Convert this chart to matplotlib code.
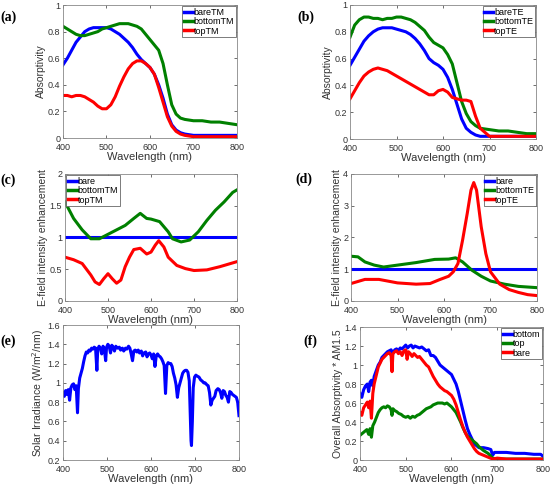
import matplotlib
matplotlib.use("Agg")
import matplotlib.pyplot as plt

plt.rcParams["font.family"] = ["Liberation Sans", "DejaVu Sans"]

# (a) TM absorptivity
wl_ab = [400, 410, 420, 430, 440, 450, 460, 470, 480, 490, 500, 510, 520, 530, 540, 550, 560, 570,
         580, 590, 600, 610, 620, 630, 640, 650, 660, 670, 680, 700, 720, 740, 760, 780, 800]
bareTM = [0.55, 0.60, 0.66, 0.72, 0.76, 0.80, 0.82, 0.83, 0.83, 0.83, 0.83, 0.82, 0.80, 0.78, 0.75, 0.72,
          0.68, 0.63, 0.59, 0.56, 0.53, 0.48, 0.40, 0.30, 0.18, 0.10, 0.06, 0.04, 0.03, 0.02, 0.02, 0.02,
          0.02, 0.02, 0.02]
bottomTM = [0.84, 0.82, 0.80, 0.78, 0.77, 0.77, 0.78, 0.79, 0.80, 0.82, 0.83, 0.84, 0.85, 0.86, 0.86, 0.86,
            0.85, 0.84, 0.82, 0.78, 0.74, 0.70, 0.66, 0.56, 0.40, 0.25, 0.18, 0.15, 0.14, 0.13, 0.13, 0.12,
            0.12, 0.11, 0.10]
topTM = [0.32, 0.32, 0.31, 0.32, 0.32, 0.31, 0.29, 0.27, 0.24, 0.22, 0.22, 0.25, 0.31, 0.39, 0.46, 0.52,
         0.56, 0.58, 0.58, 0.56, 0.53, 0.48, 0.38, 0.27, 0.16, 0.09, 0.05, 0.03, 0.02, 0.01, 0.01, 0.01,
         0.01, 0.01, 0.01]

# (b) TE absorptivity
bareTE = [0.55, 0.61, 0.67, 0.73, 0.77, 0.80, 0.82, 0.83, 0.83, 0.83, 0.82, 0.81, 0.80, 0.78, 0.75, 0.71,
          0.66, 0.60, 0.57, 0.55, 0.52, 0.46, 0.37, 0.26, 0.15, 0.08, 0.05, 0.03, 0.02, 0.02, 0.02, 0.02,
          0.02, 0.02, 0.02]
bottomTE = [0.76, 0.85, 0.89, 0.91, 0.91, 0.90, 0.90, 0.89, 0.90, 0.90, 0.91, 0.91, 0.90, 0.89, 0.87, 0.84,
            0.81, 0.76, 0.72, 0.70, 0.68, 0.63, 0.56, 0.42, 0.28, 0.19, 0.13, 0.10, 0.08, 0.07, 0.06, 0.06,
            0.05, 0.04, 0.04]
topTE = [0.30, 0.36, 0.42, 0.47, 0.50, 0.52, 0.53, 0.52, 0.51, 0.49, 0.47, 0.45, 0.43, 0.41, 0.39, 0.37,
         0.35, 0.33, 0.33, 0.36, 0.37, 0.35, 0.31, 0.30, 0.29, 0.29, 0.28, 0.17, 0.08, 0.02, 0.02, 0.02,
         0.02, 0.02, 0.02]

# (c) E-field enhancement, TM
wl_c_bot = [400, 420, 440, 460, 480, 500, 520, 540, 560, 575, 590, 600, 620, 640, 650, 670, 690, 710,
            730, 750, 770, 790, 800]
bottomTM_E = [1.56, 1.30, 1.12, 0.98, 0.98, 1.05, 1.12, 1.19, 1.30, 1.38, 1.30, 1.29, 1.25, 1.09, 0.98,
              0.93, 0.96, 1.09, 1.27, 1.43, 1.56, 1.71, 1.75]
wl_c_top = [400, 420, 440, 460, 470, 480, 490, 500, 510, 520, 530, 540, 550, 560, 575, 590, 600, 610,
            618, 630, 640, 660, 680, 700, 730, 760, 800]
topTM_E = [0.69, 0.65, 0.59, 0.41, 0.30, 0.26, 0.35, 0.43, 0.35, 0.28, 0.33, 0.54, 0.69, 0.81, 0.83, 0.74,
           0.77, 0.88, 0.95, 0.85, 0.69, 0.56, 0.51, 0.48, 0.49, 0.54, 0.62]

# (d) E-field enhancement, TE
wl_d_bot = [400, 415, 430, 450, 470, 500, 540, 580, 610, 625, 640, 660, 680, 700, 730, 760, 800]
bottomTE_E = [1.41, 1.39, 1.23, 1.13, 1.07, 1.13, 1.21, 1.31, 1.32, 1.36, 1.23, 0.97, 0.78, 0.63, 0.53,
              0.46, 0.42]
wl_d_top = [400, 430, 460, 500, 540, 570, 590, 610, 620, 630, 640, 650, 658, 664, 670, 680, 690, 700,
            720, 740, 760, 780, 800]
topTE_E = [0.55, 0.68, 0.68, 0.57, 0.53, 0.55, 0.67, 0.78, 0.92, 1.18, 1.92, 2.76, 3.49, 3.73, 3.49, 2.34,
           1.49, 0.92, 0.53, 0.36, 0.27, 0.20, 0.17]

# (e) solar irradiance AM1.5
wl_e = [400, 403, 406, 409, 412, 415, 418, 421, 424, 427, 430, 433, 435, 438, 441, 444, 447, 450, 453,
        456, 459, 462, 465, 468, 471, 474, 477, 479, 482, 485, 488, 491, 494, 497, 499, 502, 505, 508,
        511, 514, 517, 520, 524, 528, 531, 535, 538, 542, 545, 549, 552, 555, 558, 561, 564, 568, 571,
        574, 578, 581, 584, 588, 591, 594, 597, 600, 603, 606, 609, 612, 615, 618, 621, 624, 627, 630,
        633, 636, 639, 642, 645, 648, 651, 654, 657, 660, 663, 666, 669, 672, 675, 678, 681, 684, 687,
        689, 691, 692, 694, 696, 699, 702, 705, 709, 713, 716, 720, 723, 727, 730, 733, 736, 739, 742,
        745, 748, 752, 755, 758, 761, 764, 767, 770, 773, 776, 779, 782, 785, 788, 791, 794, 797, 800]
irr = [0.90, 0.86, 0.92, 0.88, 0.93, 0.82, 0.95, 0.98, 0.99, 0.93, 0.97, 0.69, 0.94, 1.05, 1.10, 1.15,
       1.22, 1.28, 1.32, 1.31, 1.34, 1.33, 1.36, 1.35, 1.37, 1.36, 1.13, 1.35, 1.38, 1.36, 1.30, 1.38,
       1.35, 1.23, 1.37, 1.40, 1.38, 1.31, 1.39, 1.37, 1.33, 1.38, 1.36, 1.37, 1.34, 1.36, 1.33, 1.36,
       1.35, 1.38, 1.36, 1.30, 1.23, 1.33, 1.34, 1.32, 1.34, 1.31, 1.33, 1.28, 1.31, 1.32, 1.27, 1.30,
       1.31, 1.29, 1.25, 1.30, 1.17, 1.28, 1.30, 1.28, 1.27, 1.25, 1.22, 1.18, 0.89, 1.18, 1.21, 1.20,
       1.20, 1.17, 1.10, 1.05, 0.98, 0.85, 0.95, 1.00, 1.05, 1.10, 1.12, 1.13, 1.13, 1.11, 1.02, 0.70,
       0.40, 0.35, 0.60, 0.95, 1.06, 1.08, 1.07, 1.06, 1.03, 1.02, 1.00, 1.00, 0.98, 0.97, 0.90, 0.77,
       0.82, 0.84, 0.86, 0.92, 0.94, 0.93, 0.90, 0.84, 0.92, 0.91, 0.87, 0.85, 0.80, 0.91, 0.90, 0.88,
       0.87, 0.86, 0.85, 0.80, 0.66]

# (f) overall absorptivity * AM1.5
wl_f_bot = [400, 404, 408, 412, 416, 419, 422, 425, 428, 431, 434, 437, 440, 444, 448, 452, 456, 460,
            464, 468, 472, 476, 480, 484, 488, 492, 496, 500, 504, 508, 512, 516, 520, 525, 530, 535,
            540, 545, 550, 555, 560, 565, 570, 575, 580, 585, 590, 595, 600, 605, 610, 615, 620, 625,
            630, 635, 640, 645, 650, 655, 660, 670, 680, 686, 690, 694, 700, 720, 740, 760, 780, 795, 800]
f_bottom = [0.70, 0.66, 0.74, 0.78, 0.80, 0.72, 0.82, 0.84, 0.78, 0.88, 0.92, 0.96, 1.00, 1.03, 1.08,
            1.10, 1.12, 1.14, 1.15, 1.16, 1.12, 1.16, 1.17, 1.15, 1.18, 1.17, 1.19, 1.21, 1.18, 1.20,
            1.21, 1.18, 1.20, 1.19, 1.18, 1.19, 1.17, 1.15, 1.16, 1.10, 1.10, 1.08, 1.04, 1.00, 0.98,
            0.96, 0.94, 0.92, 0.90, 0.85, 0.80, 0.72, 0.62, 0.52, 0.42, 0.33, 0.27, 0.22, 0.17, 0.15,
            0.13, 0.13, 0.12, 0.11, 0.05, 0.08, 0.08, 0.08, 0.07, 0.07, 0.06, 0.06, 0.04]
wl_f_top = [400, 405, 410, 415, 419, 422, 425, 428, 432, 436, 440, 444, 448, 452, 456, 460, 464, 468,
            470, 472, 476, 480, 485, 490, 495, 500, 505, 510, 515, 520, 525, 530, 535, 540, 545, 550,
            555, 560, 565, 570, 575, 580, 585, 590, 595, 600, 605, 610, 615, 620, 625, 630, 635, 640,
            645, 650, 655, 660, 670, 680, 690, 700, 750, 800]
f_top = [0.26, 0.28, 0.30, 0.32, 0.27, 0.33, 0.24, 0.36, 0.40, 0.45, 0.50, 0.53, 0.55, 0.56, 0.55, 0.57,
         0.56, 0.53, 0.47, 0.54, 0.52, 0.51, 0.49, 0.48, 0.46, 0.45, 0.46, 0.44, 0.46, 0.45, 0.47, 0.48,
         0.50, 0.52, 0.54, 0.55, 0.56, 0.58, 0.59, 0.60, 0.60, 0.60, 0.59, 0.60, 0.58, 0.56, 0.53, 0.50,
         0.45, 0.40, 0.34, 0.29, 0.25, 0.23, 0.21, 0.19, 0.17, 0.14, 0.10, 0.07, 0.02, 0.01, 0.01, 0.01]
wl_f_bare = [400, 404, 408, 412, 416, 419, 422, 425, 428, 431, 434, 437, 440, 444, 448, 452, 456, 460,
             464, 468, 470, 472, 476, 480, 484, 488, 492, 496, 500, 503, 506, 510, 514, 518, 522, 526,
             530, 535, 540, 545, 550, 555, 560, 565, 570, 575, 580, 585, 590, 595, 600, 605, 610, 615,
             620, 625, 630, 635, 640, 645, 650, 655, 660, 670, 680, 690, 700, 720, 750, 800]
f_bare = [0.50, 0.47, 0.55, 0.58, 0.61, 0.55, 0.62, 0.44, 0.70, 0.80, 0.86, 0.92, 0.98, 1.02, 1.06, 1.08,
          1.10, 1.12, 1.13, 1.10, 0.93, 1.12, 1.14, 1.15, 1.12, 1.14, 1.10, 1.15, 1.16, 1.06, 1.14, 1.12,
          1.09, 1.12, 1.10, 1.08, 1.09, 1.06, 1.03, 1.00, 0.98, 0.93, 0.88, 0.84, 0.80, 0.77, 0.75, 0.73,
          0.72, 0.70, 0.68, 0.64, 0.58, 0.50, 0.42, 0.35, 0.29, 0.24, 0.20, 0.16, 0.12, 0.09, 0.07, 0.05,
          0.03, 0.01, 0.02, 0.01, 0.01, 0.01]

BLUE = "#0000ff"
GREEN = "#008000"
RED = "#ff0000"
LW = 2.2
TXT = "#333333"

fig = plt.figure(figsize=(5.54, 4.94), dpi=100)


def make_ax(rect, ylim, yticks, ylabels, ylabel, tag, tagpos):
    ax = fig.add_axes(rect)
    ax.set_xlim(400, 800)
    ax.set_ylim(*ylim)
    ax.set_xticks([400, 500, 600, 700, 800])
    ax.set_yticks(yticks)
    ax.set_yticklabels(ylabels)
    ax.tick_params(direction="in", length=2.5, width=0.5, labelsize=6.5, colors=TXT,
                   top=True, right=True)
    ax.tick_params(axis="x", pad=3.5)
    ax.tick_params(axis="y", pad=2)
    for s in ax.spines.values():
        s.set_linewidth(0.6)
        s.set_color("#888888")
    ax.set_xlabel("Wavelength (nm)", fontsize=8, color=TXT, labelpad=0)
    ax.set_ylabel(ylabel, fontsize=7.5, color=TXT, labelpad=1)
    fig.text(tagpos[0], tagpos[1], tag, fontsize=10, fontweight="bold",
             family="Liberation Serif", ha="left", va="center")
    return ax


def add_legend(ax, loc):
    leg = ax.legend(loc=loc, fontsize=6.5, handlelength=1.0, handletextpad=0.1,
                    borderpad=0.2, labelspacing=0.05, borderaxespad=0.1,
                    fancybox=False, framealpha=1)
    leg.get_frame().set_edgecolor("#666666")
    leg.get_frame().set_linewidth(0.6)
    for line in leg.get_lines():
        line.set_linewidth(2.5)
    return leg


ab_ticks = [0, 0.2, 0.4, 0.6, 0.8, 1]
ab_labels = ["0", "0.2", "0.4", "0.6", "0.8", "1"]

# (a)
ax = make_ax([0.1137, 0.7206, 0.3141, 0.2692], (0, 1), ab_ticks, ab_labels, "Absorptivity",
             "(a)", (0.0, 1 - 17 / 494))
ax.plot(wl_ab, bareTM, color=BLUE, lw=LW, label="bareTM")
ax.plot(wl_ab, bottomTM, color=GREEN, lw=LW, label="bottomTM")
ax.plot(wl_ab, topTM, color=RED, lw=LW, label="topTM")
add_legend(ax, "upper right")

# (b)
ax = make_ax([0.6318, 0.7186, 0.3357, 0.2713], (0, 1), ab_ticks, ab_labels, "Absorptivity",
             "(b)", (297 / 554, 1 - 17 / 494))
ax.plot(wl_ab, bareTE, color=BLUE, lw=LW, label="bareTE")
ax.plot(wl_ab, bottomTE, color=GREEN, lw=LW, label="bottomTE")
ax.plot(wl_ab, topTE, color=RED, lw=LW, label="topTE")
add_legend(ax, "upper right")

# (c)
ax = make_ax([0.1173, 0.3907, 0.3105, 0.2571], (0, 2), [0, 0.5, 1, 1.5, 2],
             ["0", "0.5", "1", "1.5", "2"], "E-field intensity enhancement",
             "(c)", (0.0, 1 - 180 / 494))
ax.plot([400, 800], [1, 1], color=BLUE, lw=LW, label="bare")
ax.plot(wl_c_bot, bottomTM_E, color=GREEN, lw=LW, label="bottomTM")
ax.plot(wl_c_top, topTM_E, color=RED, lw=LW, label="topTM")
add_legend(ax, "upper left")

# (d)
ax = make_ax([0.6336, 0.3907, 0.3357, 0.2571], (0, 4), [0, 1, 2, 3, 4],
             ["0", "1", "2", "3", "4"], "E-field intensity enhancement",
             "(d)", (295 / 554, 1 - 179 / 494))
ax.plot([400, 800], [1, 1], color=BLUE, lw=LW, label="bare")
ax.plot(wl_d_bot, bottomTE_E, color=GREEN, lw=LW, label="bottomTE")
ax.plot(wl_d_top, topTE_E, color=RED, lw=LW, label="topTE")
add_legend(ax, "upper right")

# (e)
ax = make_ax([0.1137, 0.0688, 0.3177, 0.2733], (0.2, 1.6),
             [0.2, 0.4, 0.6, 0.8, 1.0, 1.2, 1.4, 1.6],
             ["0.2", "0.4", "0.6", "0.8", "1", "1.2", "1.4", "1.6"],
             "Solar Irradiance (W/m$^2$/nm)", "(e)", (0.0, 1 - 341 / 494))
ax.plot(wl_e, irr, color=BLUE, lw=LW)

# (f)
ax = make_ax([0.6498, 0.0688, 0.3303, 0.2692], (0, 1.4),
             [0, 0.2, 0.4, 0.6, 0.8, 1.0, 1.2, 1.4],
             ["0", "0.2", "0.4", "0.6", "0.8", "1", "1.2", "1.4"],
             "Overall Absorptivity * AM1.5", "(f)", (303 / 554, 1 - 341 / 494))
ax.plot(wl_f_bot, f_bottom, color=BLUE, lw=LW, label="bottom")
ax.plot(wl_f_top, f_top, color=GREEN, lw=LW, label="top")
ax.plot(wl_f_bare, f_bare, color=RED, lw=LW, label="bare")
add_legend(ax, "upper right")

fig.savefig("out.png", dpi=100)
